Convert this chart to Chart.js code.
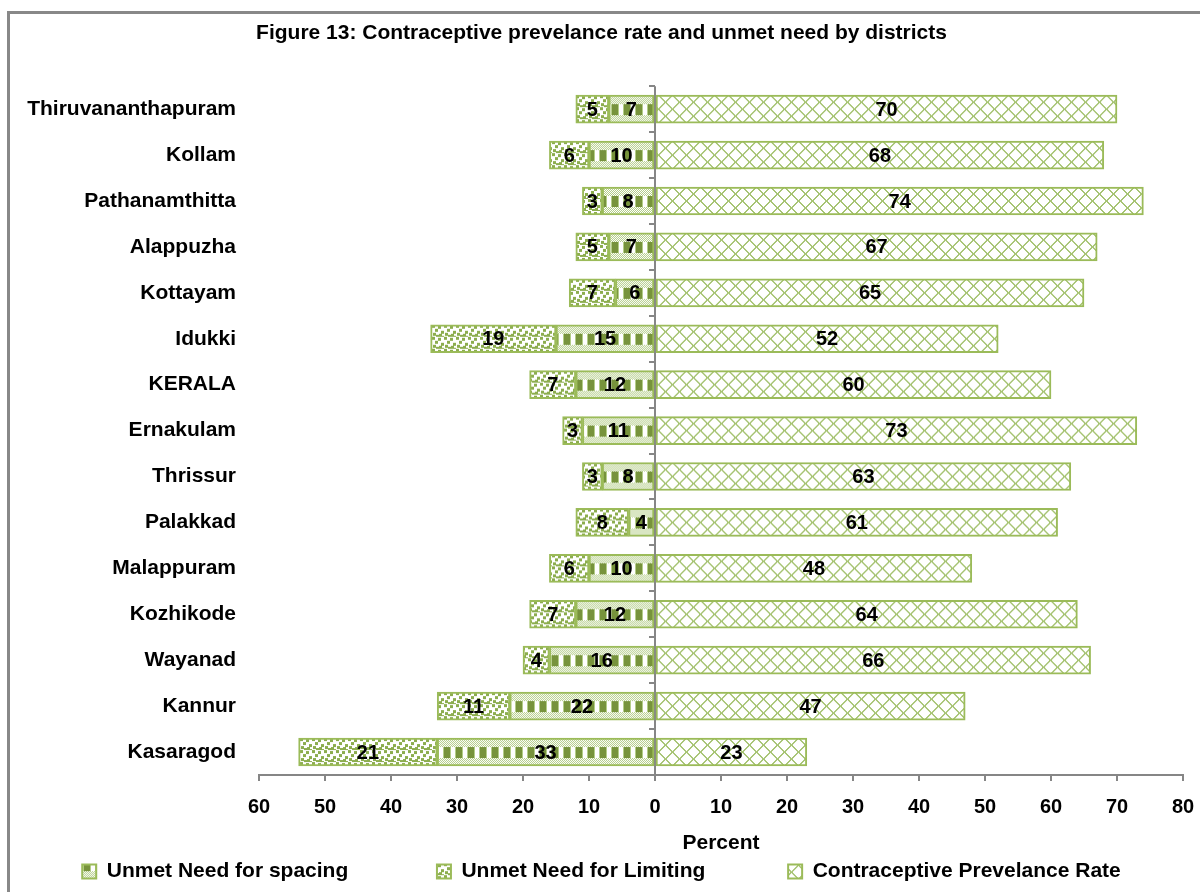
<!DOCTYPE html>
<html>
<head>
<meta charset="utf-8">
<title>Contraceptive prevalence and unmet need by district</title>
<script src="https://cdn.jsdelivr.net/npm/chart.js@4.4.1/dist/chart.umd.min.js"></script>
<style>
  html, body { margin: 0; padding: 0; background: #fff; overflow: hidden; }
  #wrap { position: relative; width: 1200px; height: 892px; }
  #frame { position: absolute; left: 7px; top: 11px; width: 1400px; height: 1000px; border: 3px solid #888; box-sizing: border-box; }
  #chart { position: absolute; left: 0; top: 0; }
</style>
</head>
<body>
<div id="wrap">
  <div id="frame"></div>
  <canvas id="chart" width="1200" height="892"></canvas>
</div>
<script>
const districts = ['Thiruvananthapuram', 'Kollam', 'Pathanamthitta', 'Alappuzha', 'Kottayam', 'Idukki', 'KERALA',
  'Ernakulam', 'Thrissur', 'Palakkad', 'Malappuram', 'Kozhikode', 'Wayanad', 'Kannur', 'Kasaragod'];
const unmetSpacing  = [7, 10, 8, 7, 6, 15, 12, 11, 8, 4, 10, 12, 16, 22, 33];
const unmetLimiting = [5, 6, 3, 5, 7, 19, 7, 3, 3, 8, 6, 7, 4, 11, 21];
const cprRate       = [70, 68, 74, 67, 65, 52, 60, 73, 63, 61, 48, 64, 66, 47, 23];
const seriesNames = ['Unmet Need for spacing', 'Unmet Need for Limiting', 'Contraceptive Prevelance Rate'];
const xMin = -60, xMax = 80, xStep = 10;

const FONT = '"Liberation Sans", Arial, sans-serif';
const GREEN = '#9bbb59', DARK = '#77933c', DOT = '#8cad4e', LIGHT = '#b4cd88', LATTICE = '#a7c474', AXIS = '#868686';
const BAR = 28;

Chart.defaults.font.family = FONT;
Chart.defaults.color = '#000';

function tile(w, h, draw) {
  const c = document.createElement('canvas');
  c.width = w; c.height = h;
  const g = c.getContext('2d');
  g.fillStyle = '#fff';
  g.fillRect(0, 0, w, h);
  draw(g);
  return c;
}

// spacing: fine checker bands top and bottom, row of dark blocks in the middle
const spacingTile = tile(12, BAR, g => {
  g.fillStyle = LIGHT;
  for (let y = 0; y < BAR; y++) {
    if (y >= 9 && y < 20) continue;
    for (let x = 0; x < 12; x++) if ((x + y) % 2 === 0) g.fillRect(x, y, 1, 1);
  }
  g.fillStyle = DARK;
  g.fillRect(0, 9, 6, 11);
  g.fillStyle = LIGHT;
  g.fillRect(6, 9, 1, 11);
  g.fillRect(11, 9, 1, 11);
});

// limiting: scattered confetti squares
const limitingTile = tile(12, 12, g => {
  g.fillStyle = DOT;
  [[0, 0], [6, 1], [3, 4], [9, 6], [1, 8], [7, 9], [10, 11], [4, 10]].forEach(([x, y]) => g.fillRect(x, y, 3, 3));
});

// prevalence: open diagonal lattice
const cprTile = tile(14, 14, g => {
  g.fillStyle = LATTICE;
  for (let i = 0; i < 14; i++) {
    g.fillRect(i, i, 2, 1);
    g.fillRect(13 - i, i, 1, 1);
    g.fillRect((14 - i) % 14, i, 1, 1);
  }
});

// pattern anchored to the top edge of each bar so the bands line up row by row
function patternFill(t) {
  return ctx => {
    const chart = ctx.chart;
    const p = chart.ctx.createPattern(t, 'repeat');
    if (ctx.type === 'data' && chart.scales.y) {
      const top = chart.scales.y.getPixelForValue(ctx.dataIndex) - BAR / 2;
      if (isFinite(top)) p.setTransform(new DOMMatrix().translate(0, top));
    }
    return p;
  };
}

const valueLabels = {
  id: 'valueLabels',
  afterDatasetsDraw(chart) {
    const { ctx } = chart;
    ctx.save();
    ctx.font = 'bold 20px ' + FONT;
    ctx.fillStyle = '#000';
    ctx.textAlign = 'center';
    ctx.textBaseline = 'middle';
    chart.data.datasets.forEach((ds, i) => {
      chart.getDatasetMeta(i).data.forEach((bar, j) => {
        ctx.fillText(String(Math.abs(ds.data[j])), (bar.x + bar.base) / 2, bar.y + 1);
      });
    });
    ctx.restore();
  }
};

// vertical axis line at zero with category tick marks
const zeroAxis = {
  id: 'zeroAxis',
  beforeDatasetsDraw(chart) {
    const { ctx, chartArea, scales: { x } } = chart;
    const x0 = Math.round(x.getPixelForValue(0));
    const step = chartArea.height / districts.length;
    ctx.save();
    ctx.strokeStyle = AXIS;
    ctx.lineWidth = 2;
    ctx.beginPath();
    ctx.moveTo(x0, chartArea.top);
    ctx.lineTo(x0, chartArea.bottom);
    for (let i = 0; i <= districts.length; i++) {
      const y = Math.round(chartArea.top + i * step);
      ctx.moveTo(x0 - 6, y);
      ctx.lineTo(x0, y);
    }
    ctx.stroke();
    ctx.restore();
  }
};

const legendGap = ['\u00a0'.repeat(14), '\u00a0'.repeat(13), ''];

new Chart(document.getElementById('chart'), {
  type: 'bar',
  data: {
    labels: districts,
    datasets: [
      { label: seriesNames[0], data: unmetSpacing.map(v => -v), backgroundColor: patternFill(spacingTile) },
      { label: seriesNames[1], data: unmetLimiting.map(v => -v), backgroundColor: patternFill(limitingTile) },
      { label: seriesNames[2], data: cprRate, backgroundColor: patternFill(cprTile) }
    ].map(d => Object.assign(d, { borderColor: GREEN, borderWidth: 2, borderSkipped: false, barThickness: BAR }))
  },
  options: {
    indexAxis: 'y',
    responsive: false,
    animation: false,
    events: [],
    layout: { padding: { left: 20, right: 17, top: 0, bottom: 0 } },
    scales: {
      x: {
        stacked: true,
        min: xMin, max: xMax,
        ticks: { stepSize: xStep, padding: 14, color: '#000', font: { size: 20, weight: 'bold' }, callback: v => Math.abs(v) },
        grid: { drawOnChartArea: false, drawTicks: true, tickLength: 6, color: AXIS, lineWidth: 2 },
        border: { display: true, color: AXIS, width: 2 },
        title: { display: true, text: 'Percent', color: '#000', font: { size: 21, weight: 'bold', lineHeight: 1 }, padding: { top: 0, bottom: 0 } },
        afterFit: s => { s.paddingLeft = 0; s.paddingRight = 0; }
      },
      y: {
        stacked: true,
        grid: { display: false, drawTicks: false },
        border: { display: false },
        ticks: { padding: 23, color: '#000', font: { size: 21, weight: 'bold' } },
        afterFit: s => { s.width = 239; }
      }
    },
    plugins: {
      title: {
        display: true,
        text: 'Figure 13: Contraceptive prevelance rate and unmet need by districts',
        color: '#000',
        font: { size: 21, weight: 'bold' },
        padding: { top: 21, bottom: 40 }
      },
      legend: {
        position: 'bottom',
        labels: {
          boxWidth: 14, boxHeight: 14, padding: 7, color: '#000',
          font: { size: 21, weight: 'bold' },
          generateLabels(chart) {
            const items = Chart.defaults.plugins.legend.labels.generateLabels(chart);
            items.forEach((it, i) => { it.text += legendGap[i]; });
            return items;
          }
        }
      },
      tooltip: { enabled: false }
    }
  },
  plugins: [zeroAxis, valueLabels]
});
</script>
</body>
</html>
